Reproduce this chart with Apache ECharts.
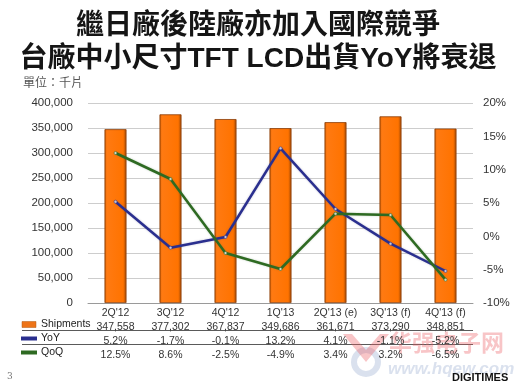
<!DOCTYPE html>
<html>
<head>
<meta charset="utf-8">
<script src="https://cdn.jsdelivr.net/npm/echarts@6/dist/echarts.min.js"></script>
<style>
html,body{margin:0;padding:0;background:#fff;}
#c{width:516px;height:388px;}
</style>
</head>
<body>
<div id="c"></div>
<script>
const categories = ["2Q'12", "3Q'12", "4Q'12", "1Q'13", "2Q'13 (e)", "3Q'13 (f)", "4Q'13 (f)"];
const shipments = [347558, 377302, 367837, 349686, 361671, 373290, 348851];
const yoy = [5.2, -1.7, -0.1, 13.2, 4.1, -1.1, -5.2];
const qoq = [12.5, 8.6, -2.5, -4.9, 3.4, 3.2, -6.5];
const leftTicks = [0, 50000, 100000, 150000, 200000, 250000, 300000, 350000, 400000];
const rightTicks = [-10, -5, 0, 5, 10, 15, 20];

const FONT = "'Liberation Sans', Arial, sans-serif";
const CJK = "'Liberation Sans', 'Noto Sans CJK TC', sans-serif";
const fmtNum = v => v.toLocaleString('en-US');

const chart = echarts.init(document.getElementById('c'), null, {renderer: 'canvas'});
chart.setOption({
  animation: false,
  backgroundColor: '#ffffff',
  grid: {left: 88, right: 43, top: 103, height: 200},
  legend: {
    orient: 'vertical',
    left: 16,
    top: 312.5,
    itemWidth: 14,
    itemHeight: 8,
    itemGap: 0,
    selectedMode: false,
    textStyle: {fontFamily: FONT, fontSize: 10.5, color: '#222', lineHeight: 14},
    data: [
      {name: 'Shipments', icon: 'path://M0,0h14v6h-14z', itemStyle: {color: '#ee7418', borderColor: '#b05a10', borderWidth: 0.5}},
      {name: 'YoY', icon: 'path://M0,0h14v2h-14z', itemStyle: {color: '#2a2f8f'}},
      {name: 'QoQ', icon: 'path://M0,0h14v2h-14z', itemStyle: {color: '#2e6a22'}}
    ]
  },
  xAxis: {
    type: 'category',
    data: categories,
    axisLine: {show: true, lineStyle: {color: '#9a9a9a', width: 1}},
    axisTick: {show: false},
    axisLabel: {
      margin: 3,
      interval: 0,
      fontFamily: FONT,
      fontSize: 10.5,
      color: '#333',
      lineHeight: 14,
      formatter: function (v, i) {
        return v + '\n' + fmtNum(shipments[i]) + '\n' + yoy[i].toFixed(1) + '%\n' + qoq[i].toFixed(1) + '%';
      }
    }
  },
  yAxis: [
    {
      type: 'value', min: leftTicks[0], max: leftTicks[leftTicks.length - 1], interval: 50000,
      axisLine: {show: false}, axisTick: {show: false},
      splitLine: {show: true, lineStyle: {color: '#cdcdcd', width: 1}},
      axisLabel: {margin: 15, fontFamily: FONT, fontSize: 11.5, color: '#333', formatter: v => fmtNum(v)}
    },
    {
      type: 'value', min: rightTicks[0], max: rightTicks[rightTicks.length - 1], interval: 5,
      axisLine: {show: false}, axisTick: {show: false},
      splitLine: {show: false},
      axisLabel: {margin: 10, fontFamily: FONT, fontSize: 11.5, color: '#333', formatter: v => v + '%'}
    }
  ],
  series: [
    {
      name: 'Shipments', type: 'bar', data: shipments, barWidth: 22, yAxisIndex: 0,
      itemStyle: {
        color: new echarts.graphic.LinearGradient(0, 0, 1, 0, [
          {offset: 0, color: '#b85400'},
          {offset: 0.1, color: '#ff7a12'},
          {offset: 0.85, color: '#ff7300'},
          {offset: 1, color: '#9c4606'}
        ]),
        borderColor: '#8a3c08', borderWidth: 0.8
      }
    },
    {
      name: 'YoY', type: 'line', data: yoy, yAxisIndex: 1, z: 5,
      symbol: 'circle', symbolSize: 3, showSymbol: true,
      lineStyle: {color: '#2a2f8f', width: 2.5, shadowColor: 'rgba(60,60,120,0.35)', shadowBlur: 2},
      itemStyle: {color: '#c9c9d6', borderColor: '#2a2f8f', borderWidth: 0.5}
    },
    {
      name: 'QoQ', type: 'line', data: qoq, yAxisIndex: 1, z: 5,
      symbol: 'circle', symbolSize: 3, showSymbol: true,
      lineStyle: {color: '#2e6a22', width: 2.5, shadowColor: 'rgba(60,110,60,0.35)', shadowBlur: 2},
      itemStyle: {color: '#cfd6c9', borderColor: '#2e6a22', borderWidth: 0.5}
    }
  ],
  graphic: [
    {type: 'text', left: 'center', top: 12, style: {text: '繼日廠後陸廠亦加入國際競爭', font: "bold 28px " + CJK, fill: '#151515'}},
    {type: 'text', left: 'center', top: 45, style: {text: '台廠中小尺寸TFT LCD出貨YoY將衰退', font: "bold 28px " + CJK, fill: '#151515'}},
    {type: 'text', left: 23, top: 76, style: {text: '單位：千片', font: "12px 'Noto Sans CJK TC', sans-serif", fill: '#555'}},
    {type: 'line', shape: {x1: 22, y1: 330.5, x2: 473, y2: 330.5}, style: {stroke: '#5a5a5a', lineWidth: 1}},
    {type: 'line', shape: {x1: 22, y1: 344.5, x2: 473, y2: 344.5}, style: {stroke: '#5a5a5a', lineWidth: 1}},
    {type: 'text', left: 7, top: 372, style: {text: '3', font: "9px 'DejaVu Serif', serif", fill: '#777'}},
    {type: 'circle', shape: {cx: 366, cy: 362, r: 12}, style: {fill: 'none', stroke: 'rgba(150,170,205,0.35)', lineWidth: 6}},
    {type: 'polygon', shape: {points: [[343, 334], [352, 334], [366, 350], [380, 334], [389, 334], [366, 362]]}, style: {fill: 'rgba(235,90,95,0.35)'}},
    {type: 'text', left: 389, top: 331, style: {text: '华强电子网', font: "bold 23px 'Noto Sans CJK SC', sans-serif", fill: 'rgba(235,90,95,0.35)'}},
    {type: 'text', left: 388, top: 361, style: {text: 'www.hqew.com', font: "italic bold 17px " + FONT, fill: 'rgba(150,170,205,0.35)'}},
    {type: 'text', left: 452, top: 372, style: {text: 'DIGITIMES', font: "bold 11px " + FONT, fill: '#111'}}
  ]
});
</script>
</body>
</html>
